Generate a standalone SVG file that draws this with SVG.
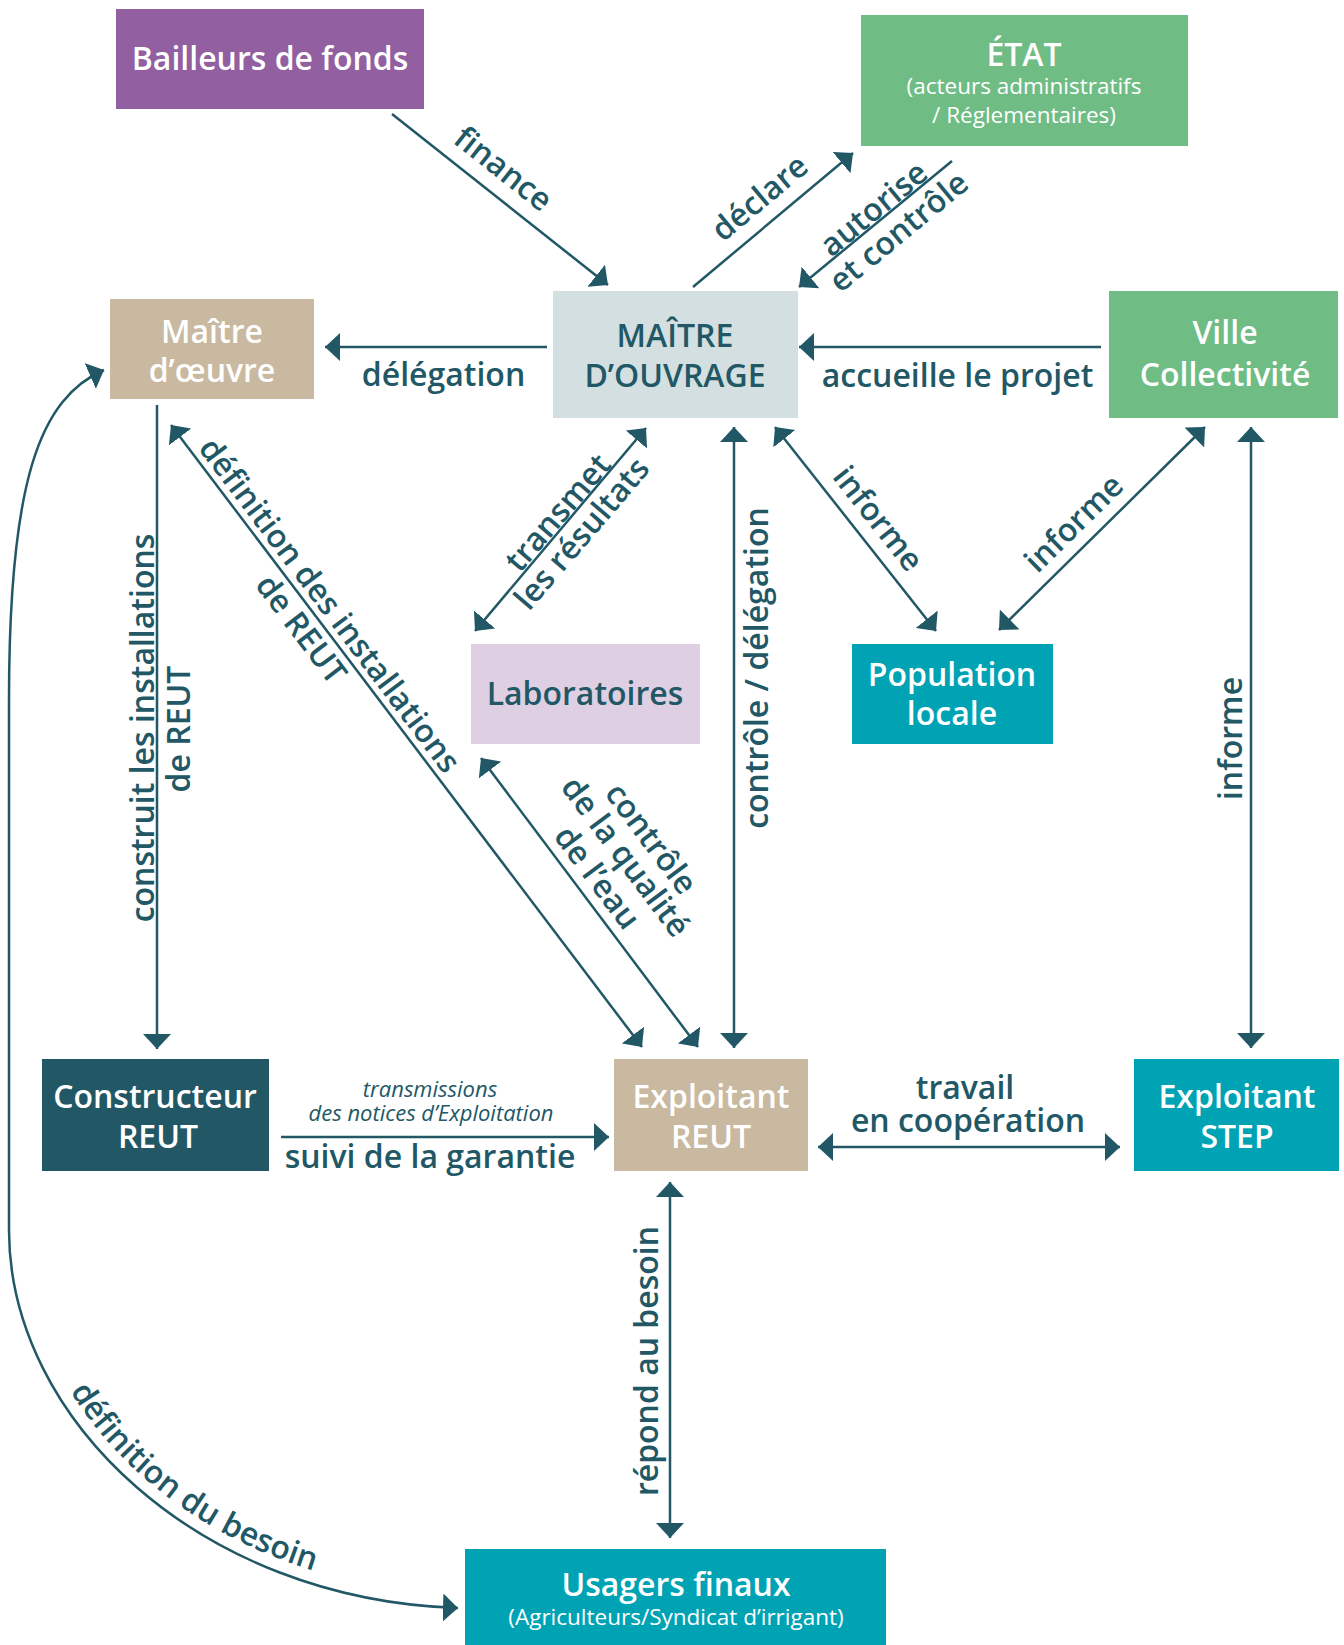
<svg xmlns="http://www.w3.org/2000/svg" width="1344" height="1645" viewBox="0 0 1344 1645">
<defs>
<style>
text{font-family:"Open Sans","Noto Sans",sans-serif}
.t{font-size:32px;font-weight:600;fill:#fff;text-anchor:middle}
.dk{fill:#225866}
.s{font-size:22.5px;font-weight:400}
.lbl{font-size:32px;font-weight:600;fill:#225866;text-anchor:middle}
.it{font-size:22px;font-style:italic;font-weight:400;fill:#225866;text-anchor:middle}
.con{stroke:#225866;stroke-width:2.5;fill:none}
.end{marker-end:url(#ah)}
.both{marker-start:url(#ah);marker-end:url(#ah)}
</style>
<marker id="ah" viewBox="0 0 15 28" markerWidth="15" markerHeight="28" refX="15" refY="14" orient="auto-start-reverse" markerUnits="userSpaceOnUse">
<path d="M0,0 L15,14 L0,28 Z" fill="#225866"/>
</marker>
<path id="besoinPath" d="M23,1230 C23,1414 201,1586 458,1594"/>
</defs>
<rect width="1344" height="1645" fill="#fff"/>

<g id="bailleurs">
<rect x="116" y="9" width="308" height="100" fill="#925FA0"/>
<text class="t" x="270" y="70">Bailleurs de fonds</text>
</g>
<g id="etat">
<rect x="861" y="15" width="327" height="131" fill="#6FBC85"/>
<text class="t" x="1024" y="66">ÉTAT</text>
<text class="t s" x="1024" y="94">(acteurs administratifs</text>
<text class="t s" x="1024" y="123">/ Réglementaires)</text>
</g>
<g id="maitre-oeuvre">
<rect x="110" y="299" width="204" height="100" fill="#C9B9A0"/>
<text class="t" x="212" y="343">Maître</text>
<text class="t" x="212" y="382">d’œuvre</text>
</g>
<g id="maitre-ouvrage">
<rect x="553" y="291" width="245" height="127" fill="#D3DFE1"/>
<text class="t dk" x="675" y="347">MAÎTRE</text>
<text class="t dk" x="675" y="387">D’OUVRAGE</text>
</g>
<g id="ville">
<rect x="1109" y="291" width="229" height="127" fill="#6FBC85"/>
<text class="t" x="1225" y="344">Ville</text>
<text class="t" x="1225" y="386">Collectivité</text>
</g>
<g id="laboratoires">
<rect x="471" y="644" width="229" height="100" fill="#DFCFE3"/>
<text class="t dk" x="585" y="705">Laboratoires</text>
</g>
<g id="population">
<rect x="852" y="644" width="201" height="100" fill="#00A3B4"/>
<text class="t" x="952" y="686">Population</text>
<text class="t" x="952" y="725">locale</text>
</g>
<g id="constructeur">
<rect x="42" y="1059" width="227" height="112" fill="#225866"/>
<text class="t" x="155" y="1108">Constructeur</text>
<text class="t" x="158" y="1148">REUT</text>
</g>
<g id="exploitant-reut">
<rect x="614" y="1059" width="194" height="112" fill="#C9B9A0"/>
<text class="t" x="711" y="1108">Exploitant</text>
<text class="t" x="711" y="1148">REUT</text>
</g>
<g id="exploitant-step">
<rect x="1134" y="1059" width="205" height="112" fill="#00A3B4"/>
<text class="t" x="1237" y="1108">Exploitant</text>
<text class="t" x="1237" y="1148">STEP</text>
</g>
<g id="usagers">
<rect x="465" y="1549" width="421" height="96" fill="#00A3B4"/>
<text class="t" x="676" y="1596">Usagers finaux</text>
<text class="t s" x="676" y="1625">(Agriculteurs/Syndicat d’irrigant)</text>
</g>

<g id="connectors">
<line class="con end" x1="392" y1="114" x2="608" y2="285"/>
<line class="con end" x1="693" y1="287" x2="853" y2="153"/>
<line class="con end" x1="952" y1="161" x2="799" y2="287"/>
<line class="con end" x1="547" y1="347" x2="325" y2="347"/>
<line class="con end" x1="1101" y1="347" x2="799" y2="347"/>
<line class="con end" x1="157" y1="405" x2="157" y2="1049"/>
<line class="con both" x1="171" y1="425" x2="642" y2="1047"/>
<line class="con both" x1="646" y1="428" x2="475" y2="631"/>
<line class="con both" x1="481" y1="758" x2="698" y2="1047"/>
<line class="con both" x1="734" y1="427" x2="734" y2="1048"/>
<line class="con both" x1="775" y1="427" x2="936" y2="631"/>
<line class="con both" x1="1205" y1="427" x2="999" y2="630"/>
<line class="con both" x1="1251" y1="427" x2="1251" y2="1048"/>
<line class="con end" x1="281" y1="1137" x2="609" y2="1137"/>
<line class="con both" x1="818" y1="1147" x2="1120" y2="1147"/>
<line class="con both" x1="670" y1="1182" x2="670" y2="1538"/>
<path class="con both" d="M104,370 C40,398 9,480 9,700 L9,1230 C9,1420 200,1600 458,1608"/>
</g>

<g id="labels">
<text class="lbl" transform="translate(504,168) rotate(38.4)" y="12">finance</text>
<text class="lbl" transform="translate(759,197) rotate(-39.9)" y="12">déclare</text>
<text class="lbl" transform="translate(873,208) rotate(-39.5)" y="12">autorise</text>
<text class="lbl" transform="translate(898,231) rotate(-39.5)" y="12">et contrôle</text>
<text class="lbl" x="443.5" y="386">délégation</text>
<text class="lbl" x="957.5" y="387">accueille le projet</text>
<text class="lbl" transform="translate(154,728) rotate(-90)">construit les installations</text>
<text class="lbl" transform="translate(190,729) rotate(-90)">de REUT</text>
<text class="lbl" transform="translate(330.5,604.5) rotate(52.9)" y="12">définition des installations</text>
<text class="lbl" transform="translate(302,628.5) rotate(52.9)" y="12">de REUT</text>
<text class="lbl" transform="translate(557,512) rotate(-49.4)" y="12">transmet</text>
<text class="lbl" transform="translate(581,533) rotate(-49.4)" y="12">les résultats</text>
<text class="lbl" transform="translate(652,838) rotate(53.1)" y="12">contrôle</text>
<text class="lbl" transform="translate(624,858) rotate(53.1)" y="9">de la qualité</text>
<text class="lbl" transform="translate(598,877) rotate(53.1)" y="12">de l’eau</text>
<text class="lbl" transform="translate(768,668) rotate(-90)">contrôle / délégation</text>
<text class="lbl" transform="translate(879,518) rotate(51.7)" y="12">informe</text>
<text class="lbl" transform="translate(1073,522.5) rotate(-44.6)" y="12">informe</text>
<text class="lbl" transform="translate(1242,738.5) rotate(-90)">informe</text>
<text class="lbl" transform="translate(658,1361) rotate(-90)">répond au besoin</text>
<text class="it" x="430" y="1097">transmissions</text>
<text class="it" x="431" y="1121">des notices d’Exploitation</text>
<text class="lbl" x="430" y="1168">suivi de la garantie</text>
<text class="lbl" x="965" y="1099">travail</text>
<text class="lbl" x="968" y="1132">en coopération</text>
<text class="lbl" style="text-anchor:start"><textPath href="#besoinPath" startOffset="170">définition du besoin</textPath></text>
</g>
</svg>
